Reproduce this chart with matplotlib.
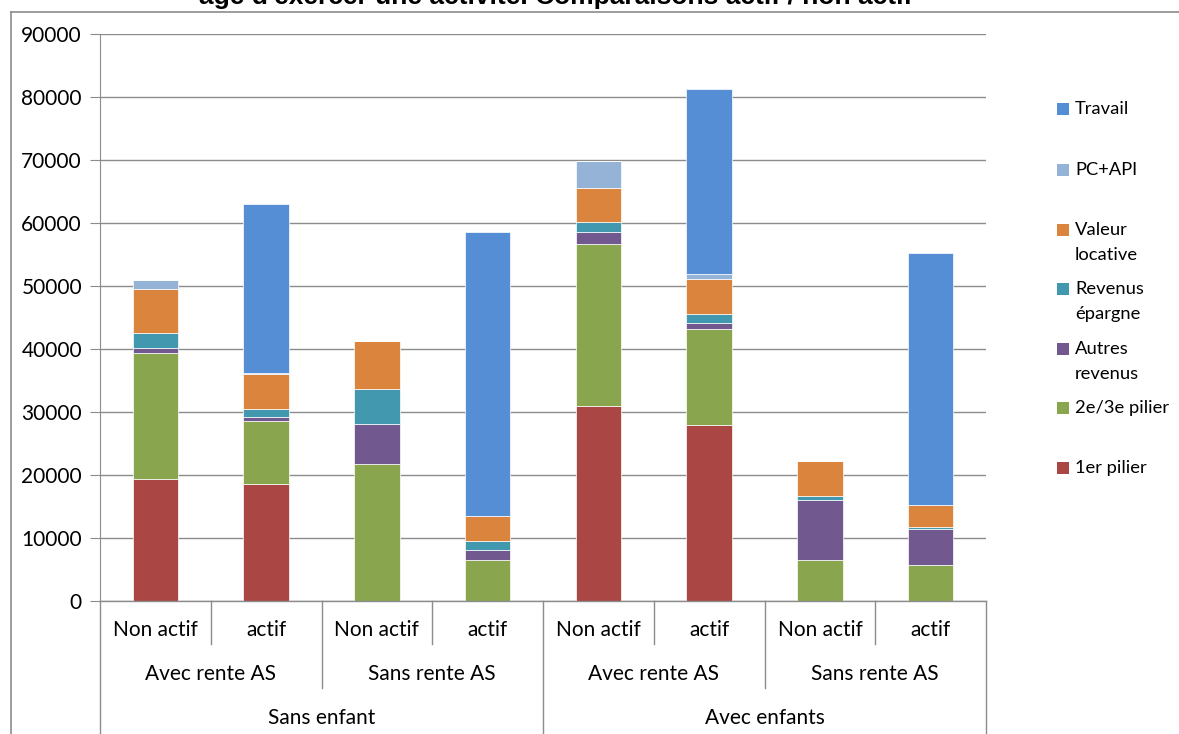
import matplotlib
matplotlib.use("Agg")
import matplotlib.pyplot as plt
from matplotlib.lines import Line2D
from matplotlib.patches import Rectangle
import numpy as np

# ---------------- data ----------------
level1 = ["Non actif", "actif", "Non actif", "actif", "Non actif", "actif", "Non actif", "actif"]
level2 = ["Avec rente AS", "Sans rente AS", "Avec rente AS", "Sans rente AS"]
level3 = ["Sans enfant", "Avec enfants"]

series_names = ["1er pilier", "2e/3e pilier", "Autres\nrevenus", "Revenus\népargne",
                "Valeur\nlocative", "PC+API", "Travail"]
premier_pilier = [19300, 18600, 0, 0, 31000, 27900, 0, 0]
deux_trois_pilier = [20000, 10000, 21700, 6450, 25700, 15250, 6450, 5650]
autres_revenus = [900, 600, 6450, 1700, 1950, 1000, 9600, 5700]
revenus_epargne = [2400, 1350, 5450, 1450, 1450, 1400, 600, 350]
valeur_locative = [6900, 5450, 7650, 3900, 5400, 5600, 5650, 3550]
pc_api = [1500, 200, 0, 0, 4350, 750, 0, 0]
travail = [0, 26800, 0, 45100, 0, 29400, 0, 40050]

colors = ["#AA4643", "#89A54E", "#71588F", "#4298AF", "#DB843D", "#95B3D7", "#558ED5"]

title = "âge d'exercer une activité. Comparaisons actif / non actif"

# ---------------- figure ----------------
W, H = 1179, 734
fig = plt.figure(figsize=(W / 100, H / 100), dpi=100)
FONT = "Lato"

def fx(px):
    return px / W

def fy(py):
    return 1 - py / H

ax_l, ax_r, ax_t, ax_b = 100, 986, 34, 601
ax = fig.add_axes([fx(ax_l), fy(ax_b), fx(ax_r - ax_l), (ax_b - ax_t) / H])

data = [premier_pilier, deux_trois_pilier, autres_revenus, revenus_epargne,
        valeur_locative, pc_api, travail]
x = np.arange(len(level1))
bottom = np.zeros(len(level1))
for vals, c in zip(data, colors):
    v = np.array(vals, dtype=float)
    ax.bar(x, v, width=0.41, bottom=bottom, color=c, edgecolor="white",
           linewidth=0.5, zorder=3)
    bottom += v

ax.set_xlim(-0.5, len(level1) - 0.5)
ax.set_ylim(0, 90000)
ax.set_yticks(np.arange(0, 90001, 10000))
ax.set_yticklabels([str(v) for v in range(0, 90001, 10000)], fontname=FONT, fontsize=15)
ax.yaxis.grid(True, color="#8C8C8C", linewidth=1.0, zorder=0)
ax.set_xticks([])
for s in ["top", "right", "bottom"]:
    ax.spines[s].set_visible(False)
ax.spines["left"].set_color("#8C8C8C")
ax.tick_params(axis="y", length=7, color="#8C8C8C", pad=6)

# ---------------- multilevel category axis ----------------
line_kw = dict(color="#8C8C8C", linewidth=1.0, transform=fig.transFigure, clip_on=False)
fig.add_artist(Line2D([fx(ax_l), fx(ax_r)], [fy(ax_b), fy(ax_b)], **line_kw))
cw = (ax_r - ax_l) / len(level1)
for i in range(len(level1) + 1):
    xp = ax_l + i * cw
    if i % 4 == 0:
        yb = H + 2
    elif i % 2 == 0:
        yb = 688
    else:
        yb = 644
    fig.add_artist(Line2D([fx(xp), fx(xp)], [fy(ax_b), fy(yb)], **line_kw))

for i, lab in enumerate(level1):
    fig.text(fx(ax_l + (i + 0.5) * cw), fy(630), lab, ha="center", va="center",
             fontname=FONT, fontsize=15)
for i, lab in enumerate(level2):
    fig.text(fx(ax_l + (2 * i + 1) * cw), fy(674), lab, ha="center", va="center",
             fontname=FONT, fontsize=15)
for i, lab in enumerate(level3):
    fig.text(fx(ax_l + (4 * i + 2) * cw), fy(718), lab, ha="center", va="center",
             fontname=FONT, fontsize=15)

# ---------------- chart border & title ----------------
border_kw = dict(color="#8C8C8C", linewidth=1.2, transform=fig.transFigure, clip_on=False)
fig.add_artist(Line2D([fx(10.5), fx(W + 5)], [fy(11.5), fy(11.5)], **border_kw))
fig.add_artist(Line2D([fx(10.5), fx(10.5)], [fy(11.5), fy(H + 5)], **border_kw))
# the title is cut by the top edge, as in the original image
fig.text(fx(556), fy(4), title, ha="center", va="baseline",
         fontname="Liberation Sans", fontweight="bold", fontsize=19)

# ---------------- legend ----------------
leg_y = [468, 408, 349, 289, 230, 170, 109]
for name, c, yy in zip(series_names, colors, leg_y):
    fig.add_artist(Rectangle((fx(1057), fy(yy + 6)), fx(12), 12 / H, facecolor=c,
                             edgecolor="none", transform=fig.transFigure))
    for k, ln in enumerate(name.split("\n")):
        fig.text(fx(1075), fy(yy + k * 24.5), ln, ha="left", va="center",
                 fontname=FONT, fontsize=13.2)

fig.savefig("out.png", dpi=100)
